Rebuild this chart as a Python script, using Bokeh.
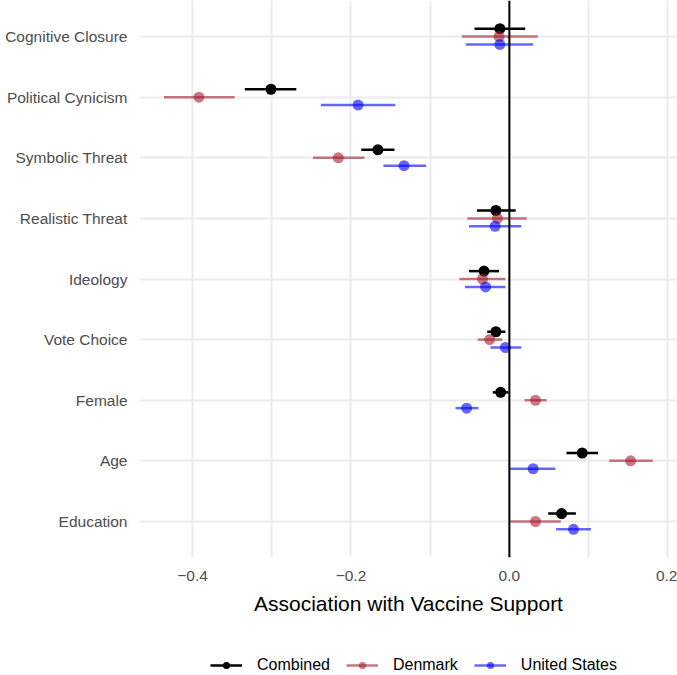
from bokeh.plotting import figure
from bokeh.models import (ColumnDataSource, FixedTicker, Span, Legend, LegendItem, Range1d)
from bokeh.layouts import column
from bokeh.embed import file_html
from bokeh.resources import INLINE

# ---- data ----
categories = ["Cognitive Closure", "Political Cynicism", "Symbolic Threat", "Realistic Threat",
              "Ideology", "Vote Choice", "Female", "Age", "Education"]

combined_est = [-0.012, -0.301, -0.166, -0.017, -0.032, -0.017, -0.011, 0.092, 0.066]
combined_lo  = [-0.044, -0.334, -0.187, -0.041, -0.051, -0.028, -0.021, 0.072, 0.049]
combined_hi  = [ 0.020, -0.269, -0.145,  0.008, -0.013, -0.005, -0.001, 0.112, 0.084]

denmark_est = [-0.013, -0.392, -0.216, -0.015, -0.034, -0.025, 0.033, 0.153, 0.033]
denmark_lo  = [-0.060, -0.436, -0.248, -0.053, -0.063, -0.040, 0.019, 0.126, 0.001]
denmark_hi  = [ 0.036, -0.347, -0.183,  0.022, -0.005, -0.009, 0.047, 0.181, 0.065]

us_est = [-0.012, -0.191, -0.133, -0.018, -0.030, -0.005, -0.054, 0.030, 0.081]
us_lo  = [-0.055, -0.238, -0.159, -0.051, -0.056, -0.024, -0.068, 0.001, 0.059]
us_hi  = [ 0.030, -0.144, -0.105,  0.015, -0.005,  0.015, -0.039, 0.058, 0.103]

series_names = ["Combined", "Denmark", "United States"]
series_colors = ["#000000", "#A51C30", "#0000FF"]
series_alpha = [1.0, 0.6, 0.6]
series_offset = [0.13, 0.0, -0.13]

x_ticks = [-0.4, -0.2, 0.0, 0.2]
x_tick_labels = ["\u22120.4", "\u22120.2", "0.0", "0.2"]
x_minor = [-0.3, -0.1, 0.1]

n = len(categories)
ypos = [n - i for i in range(n)]  # Cognitive Closure on top

FONT = "Liberation Sans"

p = figure(width=677, height=630, output_backend="svg", toolbar_location=None,
           x_range=Range1d(-0.467, 0.2123), y_range=Range1d(0.406, 9.594),
           min_border_left=139, min_border_right=0, min_border_top=0, min_border_bottom=73)
p.outline_line_color = None
p.background_fill_color = "white"
p.border_fill_color = "white"

# grids
p.xaxis.ticker = FixedTicker(ticks=x_ticks, minor_ticks=x_minor)
p.yaxis.ticker = FixedTicker(ticks=ypos)
p.xgrid.grid_line_color = "#ebebeb"
p.xgrid.grid_line_width = 2
p.xgrid.minor_grid_line_color = "#ebebeb"
p.xgrid.minor_grid_line_width = 2
p.ygrid.grid_line_color = "#ebebeb"
p.ygrid.grid_line_width = 2

# axes
for ax in (p.xaxis[0], p.yaxis[0]):
    ax.axis_line_color = None
    ax.major_tick_line_color = None
    ax.minor_tick_line_color = None
    ax.major_tick_out = 0
    ax.major_tick_in = 0
    ax.minor_tick_out = 0
    ax.minor_tick_in = 0
    ax.major_label_text_font = FONT
    ax.major_label_text_font_size = "15.5px"
    ax.major_label_text_color = "#4d4d4d"
p.xaxis.major_label_overrides = {t: l for t, l in zip(x_ticks, x_tick_labels)}
p.yaxis.major_label_overrides = {y: c for y, c in zip(ypos, categories)}
p.yaxis.major_label_standoff = 12
p.xaxis.major_label_standoff = 13
p.xaxis.axis_label = "Association with Vaccine Support"
p.xaxis.axis_label_text_font = FONT
p.xaxis.axis_label_text_font_size = "21px"
p.xaxis.axis_label_text_font_style = "normal"
p.xaxis.axis_label_text_color = "black"
p.xaxis.axis_label_standoff = 8

p.add_layout(Span(location=0, dimension="height", line_color="black", line_width=2))

ests = [combined_est, denmark_est, us_est]
los = [combined_lo, denmark_lo, us_lo]
his = [combined_hi, denmark_hi, us_hi]

for col, a, off, e, lo, hi in zip(series_colors, series_alpha, series_offset, ests, los, his):
    src = ColumnDataSource(dict(y=[v + off for v in ypos], est=e, lo=lo, hi=hi))
    p.segment(x0="lo", x1="hi", y0="y", y1="y", source=src,
              line_color=col, line_alpha=a, line_width=2.5)
    p.scatter(x="est", y="y", source=src, size=11, fill_color=col, fill_alpha=a,
              line_color=None)

# ---- legend strip (separate small figure below; its frame is aligned with the plot's) ----
lp = figure(width=677, height=45, output_backend="svg", toolbar_location=None,
            x_axis_type=None, y_axis_type=None, x_range=Range1d(0, 1), y_range=Range1d(0, 1),
            min_border_left=0, min_border_right=0, min_border_top=0, min_border_bottom=0)
lp.outline_line_color = None
lp.background_fill_color = "white"
lp.border_fill_color = "white"
lp.xgrid.visible = False
lp.ygrid.visible = False
items = []
for name, col, a in zip(series_names, series_colors, series_alpha):
    # one key-only point per series, kept outside the strip's visible range
    key_src = ColumnDataSource(dict(x=[5.0], y=[5.0]))
    seg = lp.segment(x0="x", x1="x", y0="y", y1="y", source=key_src,
                     line_color=col, line_alpha=a, line_width=2.5)
    pts = lp.scatter(x="x", y="y", source=key_src, size=11, fill_color=col, fill_alpha=a,
                     line_color=None)
    items.append(LegendItem(label=name, renderers=[seg, pts]))

legend = Legend(items=items, orientation="horizontal", location=(71, 1),
                label_text_font=FONT, label_text_font_size="16px", label_text_color="black",
                glyph_width=32, glyph_height=18, label_height=18, spacing=16, label_standoff=15,
                border_line_color=None, background_fill_alpha=0, margin=0, padding=0)
lp.add_layout(legend, "center")

layout = column(p, lp, spacing=0)
open("out.html", "w").write(file_html(layout, INLINE))
